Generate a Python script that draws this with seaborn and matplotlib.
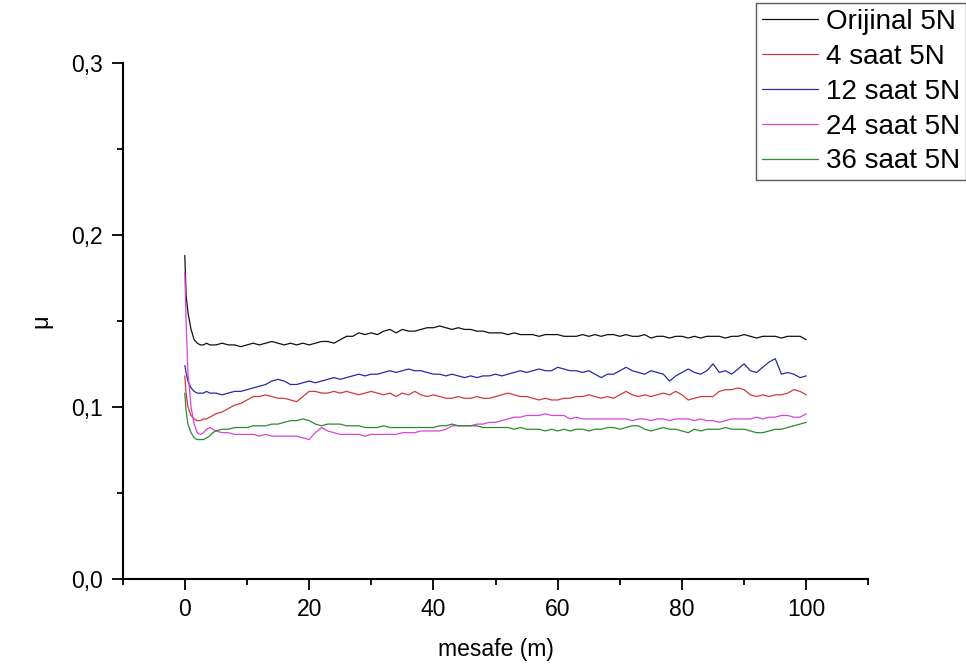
import numpy as np
import pandas as pd
import seaborn as sns
import matplotlib
matplotlib.use("Agg")
import matplotlib.pyplot as plt
from matplotlib.ticker import MultipleLocator, FuncFormatter

# distance (m): dense sampling in the first metres, then one point per metre
mesafe = [0, 0.2, 0.5, 1, 1.5, 2, 2.5, 3, 3.5, 4, 4.5] + list(range(5, 101))

series_names = ["Orijinal 5N", "4 saat 5N", "12 saat 5N", "24 saat 5N", "36 saat 5N"]

orijinal = [
    0.188, 0.165, 0.155, 0.145, 0.139, 0.137, 0.136, 0.136, 0.137, 0.136, 0.136,
    0.136, 0.137, 0.136, 0.136, 0.135, 0.136, 0.137, 0.136, 0.137, 0.138,
    0.137, 0.136, 0.137, 0.136, 0.137, 0.136, 0.137, 0.138, 0.138, 0.137,
    0.139, 0.141, 0.141, 0.143, 0.142, 0.143, 0.142, 0.144, 0.145, 0.143,
    0.145, 0.144, 0.144, 0.145, 0.146, 0.146, 0.147, 0.146, 0.145, 0.146,
    0.145, 0.145, 0.144, 0.144, 0.143, 0.143, 0.143, 0.142, 0.143, 0.142,
    0.142, 0.142, 0.141, 0.142, 0.142, 0.142, 0.141, 0.141, 0.141, 0.142,
    0.141, 0.142, 0.141, 0.142, 0.142, 0.141, 0.142, 0.141, 0.141, 0.142,
    0.140, 0.141, 0.141, 0.140, 0.141, 0.141, 0.140, 0.141, 0.140, 0.141,
    0.141, 0.141, 0.140, 0.141, 0.141, 0.142, 0.141, 0.140, 0.141, 0.141,
    0.141, 0.140, 0.141, 0.141, 0.141, 0.139,
]

saat4 = [
    0.118, 0.108, 0.100, 0.095, 0.093, 0.092, 0.092, 0.093, 0.093, 0.094, 0.095,
    0.096, 0.097, 0.099, 0.101, 0.102, 0.104, 0.106, 0.106, 0.107, 0.106,
    0.105, 0.105, 0.104, 0.103, 0.106, 0.109, 0.109, 0.108, 0.108, 0.109,
    0.108, 0.109, 0.108, 0.107, 0.108, 0.109, 0.108, 0.107, 0.108, 0.106,
    0.108, 0.107, 0.109, 0.107, 0.106, 0.107, 0.106, 0.105, 0.105, 0.106,
    0.105, 0.105, 0.106, 0.105, 0.105, 0.106, 0.107, 0.108, 0.107, 0.106,
    0.106, 0.105, 0.104, 0.105, 0.104, 0.104, 0.105, 0.105, 0.106, 0.106,
    0.107, 0.106, 0.105, 0.106, 0.105, 0.107, 0.109, 0.107, 0.106, 0.107,
    0.106, 0.107, 0.108, 0.107, 0.109, 0.107, 0.104, 0.105, 0.106, 0.106,
    0.106, 0.109, 0.110, 0.110, 0.111, 0.110, 0.107, 0.106, 0.107, 0.106,
    0.107, 0.107, 0.108, 0.110, 0.109, 0.107,
]

saat12 = [
    0.124, 0.120, 0.115, 0.111, 0.109, 0.108, 0.108, 0.108, 0.109, 0.108, 0.108,
    0.108, 0.107, 0.108, 0.109, 0.109, 0.110, 0.111, 0.112, 0.113, 0.115,
    0.116, 0.115, 0.113, 0.113, 0.114, 0.115, 0.114, 0.115, 0.116, 0.117,
    0.116, 0.117, 0.118, 0.119, 0.118, 0.119, 0.119, 0.120, 0.121, 0.120,
    0.121, 0.122, 0.121, 0.121, 0.120, 0.119, 0.119, 0.118, 0.119, 0.118,
    0.117, 0.118, 0.117, 0.118, 0.118, 0.119, 0.118, 0.119, 0.120, 0.121,
    0.120, 0.121, 0.122, 0.121, 0.121, 0.123, 0.122, 0.121, 0.121, 0.120,
    0.121, 0.119, 0.117, 0.119, 0.119, 0.121, 0.123, 0.121, 0.120, 0.119,
    0.121, 0.120, 0.119, 0.115, 0.118, 0.120, 0.122, 0.120, 0.119, 0.121,
    0.125, 0.120, 0.121, 0.119, 0.122, 0.125, 0.121, 0.120, 0.123, 0.126,
    0.128, 0.119, 0.120, 0.119, 0.117, 0.118,
]

saat24 = [
    0.178, 0.150, 0.120, 0.100, 0.090, 0.085, 0.084, 0.085, 0.087, 0.088, 0.087,
    0.086, 0.085, 0.085, 0.084, 0.084, 0.084, 0.084, 0.083, 0.084, 0.083,
    0.083, 0.083, 0.083, 0.083, 0.082, 0.081, 0.085, 0.088, 0.086, 0.085,
    0.084, 0.084, 0.084, 0.084, 0.083, 0.084, 0.084, 0.084, 0.084, 0.084,
    0.085, 0.085, 0.085, 0.086, 0.086, 0.086, 0.086, 0.087, 0.089, 0.089,
    0.089, 0.089, 0.090, 0.090, 0.091, 0.091, 0.092, 0.093, 0.094, 0.094,
    0.095, 0.095, 0.095, 0.096, 0.095, 0.095, 0.095, 0.093, 0.094, 0.093,
    0.093, 0.093, 0.093, 0.093, 0.093, 0.093, 0.093, 0.092, 0.093, 0.093,
    0.092, 0.093, 0.093, 0.092, 0.093, 0.093, 0.093, 0.092, 0.093, 0.092,
    0.092, 0.091, 0.092, 0.093, 0.093, 0.093, 0.093, 0.094, 0.093, 0.094,
    0.094, 0.095, 0.095, 0.094, 0.094, 0.096,
]

saat36 = [
    0.108, 0.098, 0.090, 0.085, 0.082, 0.081, 0.081, 0.081, 0.082, 0.083, 0.085,
    0.086, 0.087, 0.087, 0.088, 0.088, 0.088, 0.089, 0.089, 0.089, 0.090,
    0.090, 0.091, 0.092, 0.092, 0.093, 0.092, 0.090, 0.089, 0.090, 0.090,
    0.090, 0.089, 0.089, 0.089, 0.088, 0.088, 0.088, 0.089, 0.088, 0.088,
    0.088, 0.088, 0.088, 0.088, 0.088, 0.088, 0.089, 0.089, 0.090, 0.089,
    0.089, 0.089, 0.089, 0.088, 0.088, 0.088, 0.088, 0.088, 0.087, 0.088,
    0.087, 0.087, 0.087, 0.086, 0.087, 0.086, 0.087, 0.086, 0.087, 0.087,
    0.086, 0.087, 0.087, 0.088, 0.088, 0.087, 0.088, 0.089, 0.089, 0.087,
    0.086, 0.087, 0.088, 0.087, 0.087, 0.086, 0.085, 0.087, 0.086, 0.087,
    0.087, 0.087, 0.088, 0.087, 0.087, 0.087, 0.086, 0.085, 0.085, 0.086,
    0.087, 0.087, 0.088, 0.089, 0.090, 0.091,
]

line_colors = ["#111111", "#d23a3a", "#2a2aa8", "#d844d8", "#2e8a2e"]

# long table for seaborn
frames = []
for name, values in zip(series_names, [orijinal, saat4, saat12, saat24, saat36]):
    frames.append(pd.DataFrame({"mesafe": mesafe, "mu": values, "seri": name}))
df = pd.concat(frames, ignore_index=True)

sns.set_style("ticks")
plt.rcParams["font.family"] = ["Liberation Sans", "DejaVu Sans"]
plt.rcParams["text.color"] = "black"
plt.rcParams["axes.labelcolor"] = "black"

fig = plt.figure(figsize=(9.66, 6.67), dpi=100)
ax = fig.add_axes([0.127, 0.132, 0.772, 0.774])

sns.lineplot(
    data=df, x="mesafe", y="mu", hue="seri", hue_order=series_names,
    palette=line_colors, linewidth=0.9, estimator=None, sort=False,
    ax=ax, legend=False,
)

ax.set_xlim(-10, 110)
ax.set_ylim(0, 0.3)
ax.xaxis.set_major_locator(MultipleLocator(20))
ax.xaxis.set_minor_locator(MultipleLocator(10))
ax.yaxis.set_major_locator(MultipleLocator(0.1))
ax.yaxis.set_minor_locator(MultipleLocator(0.05))
ax.xaxis.set_major_formatter(FuncFormatter(lambda v, p: f"{v:.0f}"))
ax.yaxis.set_major_formatter(FuncFormatter(lambda v, p: f"{v:.1f}".replace(".", ",")))

for side in ["top", "right"]:
    ax.spines[side].set_visible(False)
for side in ["left", "bottom"]:
    ax.spines[side].set_linewidth(1.5)
    ax.spines[side].set_color("black")

ax.tick_params(axis="both", which="major", direction="out", length=8, width=1.3,
               labelsize=16.5, colors="black", labelcolor="black", pad=6)
ax.tick_params(axis="both", which="minor", direction="out", length=4, width=1.3, colors="black")

ax.set_xlabel("mesafe (m)", fontsize=16.5, labelpad=12)
ax.set_ylabel("μ", fontsize=17, labelpad=14)

handles = [plt.Line2D([], [], color=c, linewidth=0.9) for c in line_colors]
leg = ax.legend(
    handles, series_names, loc="upper right", bbox_to_anchor=(0.9995, 0.995),
    bbox_transform=fig.transFigure, fontsize=20, frameon=True, fancybox=False,
    borderaxespad=0, borderpad=0.2, handlelength=2.0, handletextpad=0.3,
    labelspacing=0.32,
)
leg.get_frame().set_edgecolor("#333333")
leg.get_frame().set_linewidth(1.0)
for t in leg.get_texts():
    t.set_color("black")

fig.savefig("out.png", dpi=100, facecolor="white")
